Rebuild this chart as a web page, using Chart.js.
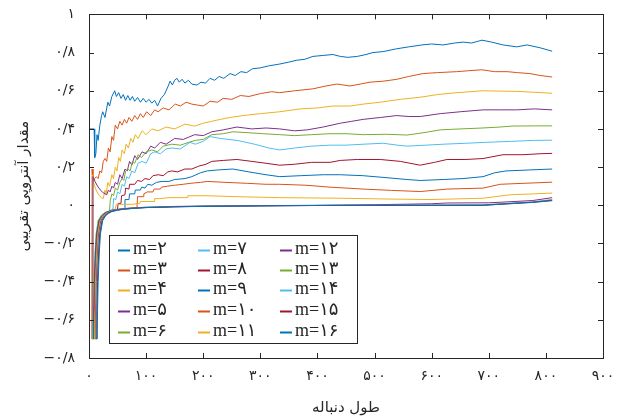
<!DOCTYPE html>
<html>
<head>
<meta charset="utf-8">
<script src="https://cdn.jsdelivr.net/npm/chart.js@4"></script>
<style>
  html, body { margin: 0; padding: 0; background: #fff; }
  #wrap { width: 618px; height: 419px; }
</style>
</head>
<body>
<div id="wrap"><canvas id="chart" width="618" height="419"></canvas></div>
<script>
// tick values and their Persian labels
var xTickValues = [0, 100, 200, 300, 400, 500, 600, 700, 800, 900];
var xTickLabels = ['۰', '۱۰۰', '۲۰۰', '۳۰۰', '۴۰۰', '۵۰۰', '۶۰۰', '۷۰۰', '۸۰۰', '۹۰۰'];
var yTickValues = [-0.8, -0.6, -0.4, -0.2, 0, 0.2, 0.4, 0.6, 0.8, 1];
var yTickLabels = ['−۰/۸', '−۰/۶', '−۰/۴', '−۰/۲', '۰', '۰/۲', '۰/۴', '۰/۶', '۰/۸', '۱'];

var seriesLabels = ['m=۲', 'm=۳', 'm=۴', 'm=۵', 'm=۶', 'm=۷', 'm=۸', 'm=۹', 'm=۱۰',
  'm=۱۱', 'm=۱۲', 'm=۱۳', 'm=۱۴', 'm=۱۵', 'm=۱۶'];

// [sequence length, approximate entropy]
var m2 = [[1,0.40],[9,0.40],[10,0.25],[12,0.27],[14,0.37],[16,0.34],[19,0.42],[22,0.47],[24,0.49],[28,0.46],[33,0.54],[36,0.52],[40,0.57],[45,0.60],[48,0.57],[52,0.59],[56,0.56],[60,0.58],[64,0.55],[68,0.575],[72,0.55],[76,0.57],[80,0.545],[85,0.565],[90,0.54],[95,0.56],[100,0.54],[105,0.555],[110,0.535],[115,0.55],[120,0.52],[126,0.56],[132,0.58],[138,0.62],[142,0.65],[146,0.63],[150,0.655],[154,0.665],[158,0.645],[163,0.66],[168,0.64],[174,0.655],[180,0.635],[189,0.63],[196,0.645],[204,0.64],[212,0.665],[220,0.655],[228,0.675],[236,0.665],[247,0.69],[256,0.68],[266,0.70],[276,0.695],[286,0.715],[300,0.72],[314,0.73],[334,0.74],[350,0.75],[364,0.76],[378,0.765],[392,0.78],[410,0.785],[427,0.79],[440,0.78],[453,0.775],[470,0.78],[485,0.79],[497,0.80],[515,0.805],[539,0.82],[560,0.83],[583,0.84],[600,0.845],[620,0.84],[640,0.85],[655,0.855],[670,0.85],[688,0.865],[705,0.855],[725,0.84],[749,0.83],[767,0.84],[790,0.825],[811,0.807]];
var m3 = [[5,-0.70],[5.5,0.19],[7,0.12],[10,0.14],[13,0.15],[16,0.14],[19,0.18],[22,0.17],[25,0.23],[28,0.245],[31,0.23],[34,0.30],[37,0.28],[40,0.36],[43,0.34],[46,0.42],[50,0.40],[54,0.44],[58,0.42],[62,0.45],[66,0.43],[70,0.46],[75,0.44],[80,0.47],[85,0.45],[90,0.48],[95,0.46],[101,0.49],[108,0.47],[115,0.50],[121,0.49],[130,0.51],[140,0.50],[151,0.53],[160,0.52],[170,0.54],[180,0.53],[190,0.525],[200,0.52],[212,0.545],[225,0.54],[235,0.56],[250,0.555],[265,0.575],[280,0.57],[300,0.585],[320,0.595],[334,0.59],[360,0.60],[392,0.61],[415,0.625],[434,0.635],[457,0.625],[475,0.635],[492,0.645],[515,0.65],[539,0.66],[560,0.675],[585,0.69],[610,0.695],[644,0.70],[665,0.705],[688,0.71],[710,0.70],[732,0.70],[750,0.695],[772,0.69],[790,0.68],[811,0.672]];
var m4 = [[5.5,-0.70],[6.5,0.16],[8,0.12],[11,0.09],[14,0.07],[18,0.05],[22,0.04],[25,0.035],[28,0.08],[30,0.06],[33,0.12],[36,0.10],[40,0.16],[43,0.14],[46,0.20],[49,0.18],[52,0.25],[55,0.23],[58,0.29],[62,0.27],[65,0.32],[69,0.30],[73,0.35],[77,0.33],[81,0.37],[86,0.35],[93,0.39],[100,0.37],[110,0.40],[121,0.39],[135,0.41],[150,0.40],[168,0.425],[185,0.415],[200,0.43],[215,0.44],[230,0.45],[247,0.46],[270,0.47],[300,0.48],[334,0.49],[370,0.505],[400,0.51],[427,0.52],[457,0.52],[480,0.53],[510,0.54],[545,0.555],[580,0.566],[610,0.58],[644,0.59],[690,0.60],[720,0.598],[749,0.597],[780,0.592],[811,0.587]];
var m5 = [[6,-0.70],[7,0.15],[8.5,0.14],[10.5,0.125],[15,0.10],[20,0.08],[25,0.065],[31,0.055],[34,0.08],[37,0.07],[40,0.10],[43,0.09],[46,0.12],[50,0.11],[54,0.16],[58,0.14],[63,0.19],[67,0.18],[71,0.23],[75,0.21],[80,0.26],[85,0.24],[93,0.28],[100,0.27],[108,0.31],[115,0.30],[125,0.33],[135,0.32],[150,0.35],[165,0.345],[185,0.37],[200,0.365],[215,0.385],[235,0.395],[259,0.41],[285,0.40],[310,0.405],[334,0.40],[360,0.39],[382,0.395],[410,0.41],[440,0.43],[460,0.44],[480,0.45],[510,0.46],[539,0.47],[560,0.465],[580,0.465],[615,0.48],[650,0.49],[690,0.50],[720,0.50],[749,0.50],[780,0.505],[811,0.50]];
var m6 = [[6.5,-0.70],[7.5,-0.55],[8.5,-0.40],[10.5,-0.25],[12.5,-0.15],[16,-0.08],[22,-0.05],[30,-0.035],[36,-0.03],[37,0.02],[40,0.06],[43,0.05],[46,0.09],[50,0.08],[54,0.12],[58,0.14],[61,0.13],[64,0.18],[68,0.19],[72,0.18],[76,0.23],[80,0.22],[86,0.265],[92,0.25],[100,0.28],[110,0.29],[120,0.28],[130,0.31],[145,0.32],[160,0.315],[175,0.33],[186,0.34],[200,0.345],[215,0.37],[235,0.375],[252,0.385],[280,0.38],[305,0.375],[334,0.37],[360,0.365],[390,0.37],[422,0.375],[450,0.375],[480,0.37],[520,0.372],[557,0.368],[585,0.38],[615,0.395],[650,0.40],[690,0.405],[720,0.41],[741,0.415],[780,0.416],[811,0.416]];
var m7 = [[7,-0.70],[8,-0.55],[9,-0.40],[11,-0.25],[13,-0.15],[17,-0.08],[22,-0.055],[27,-0.04],[35,-0.03],[42,-0.02],[43,0.035],[47,0.03],[50,0.07],[54,0.06],[58,0.11],[62,0.10],[66,0.15],[70,0.14],[75,0.18],[80,0.17],[86,0.22],[93,0.23],[100,0.22],[108,0.27],[115,0.28],[125,0.27],[135,0.295],[145,0.30],[160,0.295],[177,0.33],[186,0.32],[200,0.335],[212,0.36],[230,0.35],[259,0.34],[290,0.32],[315,0.30],[334,0.29],[360,0.30],[390,0.31],[422,0.315],[450,0.315],[480,0.32],[515,0.325],[540,0.315],[557,0.31],[590,0.315],[620,0.32],[660,0.325],[697,0.33],[740,0.335],[780,0.34],[811,0.341]];
var m8 = [[7.5,-0.70],[8.5,-0.55],[9.5,-0.40],[11.5,-0.25],[13.5,-0.15],[17.5,-0.08],[23,-0.055],[28,-0.04],[38,-0.028],[50,-0.02],[51,0.01],[56,0.01],[57,0.05],[63,0.055],[64,0.09],[70,0.085],[71,0.11],[80,0.11],[85,0.13],[92,0.125],[98,0.14],[106,0.135],[112,0.155],[121,0.16],[130,0.155],[138,0.175],[145,0.18],[155,0.175],[168,0.19],[180,0.19],[192,0.205],[205,0.215],[215,0.23],[235,0.235],[259,0.24],[285,0.23],[310,0.22],[334,0.21],[360,0.215],[390,0.225],[422,0.225],[440,0.235],[470,0.24],[510,0.24],[545,0.23],[580,0.21],[605,0.225],[627,0.24],[660,0.24],[690,0.245],[725,0.265],[760,0.265],[790,0.27],[811,0.272]];
var m9 = [[8,-0.70],[9,-0.55],[10,-0.40],[12,-0.25],[14,-0.15],[18,-0.08],[23,-0.055],[29,-0.04],[40,-0.027],[55,-0.02],[62,-0.017],[63,0.03],[70,0.03],[71,0.06],[80,0.06],[81,0.08],[90,0.08],[92,0.095],[98,0.09],[103,0.11],[110,0.105],[118,0.12],[128,0.125],[140,0.125],[150,0.135],[168,0.14],[180,0.15],[195,0.17],[207,0.18],[225,0.185],[252,0.19],[280,0.175],[310,0.16],[334,0.15],[370,0.155],[410,0.16],[440,0.16],[480,0.155],[520,0.145],[557,0.135],[580,0.13],[620,0.135],[655,0.14],[690,0.15],[710,0.17],[730,0.18],[770,0.185],[811,0.19]];
var m10 = [[9,-0.70],[10,-0.55],[11,-0.40],[13,-0.25],[15,-0.15],[19,-0.08],[24,-0.055],[30,-0.04],[45,-0.025],[60,-0.018],[84,-0.012],[85,0.045],[95,0.045],[96,0.06],[102,0.07],[112,0.07],[114,0.085],[125,0.085],[127,0.095],[137,0.10],[150,0.105],[165,0.11],[177,0.115],[195,0.12],[207,0.125],[240,0.12],[277,0.115],[310,0.11],[334,0.11],[380,0.105],[422,0.095],[480,0.085],[530,0.078],[580,0.072],[627,0.085],[690,0.09],[720,0.11],[760,0.115],[811,0.121]];
var m11 = [[10,-0.70],[11,-0.55],[12,-0.40],[14,-0.25],[16,-0.15],[20,-0.08],[25,-0.055],[31,-0.04],[45,-0.025],[48,0.005],[60,0.005],[75,0.005],[89,0.01],[90,0.02],[114,0.02],[115,0.035],[124,0.035],[140,0.04],[172,0.04],[173,0.05],[207,0.05],[260,0.045],[334,0.04],[440,0.037],[520,0.033],[597,0.03],[690,0.037],[737,0.055],[780,0.06],[811,0.064]];
var m12 = [[11,-0.70],[12,-0.55],[13,-0.40],[15,-0.25],[17,-0.15],[21,-0.08],[26,-0.055],[31,-0.04],[40,-0.028],[50,-0.022],[60,-0.018],[80,-0.013],[100,-0.01],[150,-0.006],[200,-0.004],[300,-0.002],[400,0.0],[500,0.003],[600,0.008],[627,0.012],[700,0.013],[720,0.016],[777,0.025],[811,0.04]];
var m13 = [[12,-0.70],[13,-0.55],[14,-0.40],[16,-0.25],[18,-0.15],[22,-0.08],[27,-0.055],[32,-0.04],[40,-0.029],[50,-0.023],[60,-0.019],[80,-0.014],[100,-0.011],[150,-0.007],[200,-0.005],[300,-0.002],[400,-0.001],[500,0.0],[600,0.0],[690,0.002],[720,0.008],[777,0.018],[811,0.03]];
var m14 = [[12.5,-0.70],[13.5,-0.55],[14.5,-0.40],[16.5,-0.25],[18.5,-0.15],[22.5,-0.08],[27.5,-0.055],[33,-0.04],[40,-0.03],[50,-0.024],[60,-0.02],[80,-0.015],[100,-0.011],[150,-0.007],[200,-0.005],[300,-0.002],[400,-0.001],[500,0.0],[600,0.0],[690,0.001],[720,0.007],[777,0.017],[811,0.028]];
var m15 = [[13,-0.70],[14,-0.55],[15,-0.40],[17,-0.25],[19,-0.15],[23,-0.08],[28,-0.055],[33,-0.042],[40,-0.031],[50,-0.025],[60,-0.02],[80,-0.015],[100,-0.012],[150,-0.008],[200,-0.005],[300,-0.003],[400,-0.001],[500,0.0],[600,0.0],[690,0.0],[720,0.006],[777,0.016],[811,0.026]];
var m16 = [[14,-0.70],[15,-0.55],[16,-0.40],[18,-0.25],[20,-0.15],[24,-0.08],[29,-0.055],[34,-0.043],[40,-0.033],[50,-0.026],[60,-0.021],[80,-0.016],[100,-0.012],[150,-0.008],[200,-0.006],[300,-0.003],[400,-0.001],[500,0.0],[600,0.0],[690,0.0],[720,0.005],[777,0.015],[811,0.024]];

var seriesValues = [m2, m3, m4, m5, m6, m7, m8, m9, m10, m11, m12, m13, m14, m15, m16];

// MATLAB default colour order, repeating
var palette = ['#0072BD', '#D95319', '#EDB120', '#7E2F8E', '#77AC30', '#4DBEEE', '#A2142F'];

var axisColor = '#262626';
var tickFont = { family: "'DejaVu Sans'", size: 14 };
var titleFont = { family: "'DejaVu Sans'", size: 15 };

var datasets = seriesValues.map(function (pts, i) {
  return {
    label: seriesLabels[i],
    data: pts.map(function (p) { return { x: p[0], y: p[1] }; }),
    borderColor: palette[i % palette.length],
    borderWidth: 1,
    pointRadius: 0,
    tension: 0,
    fill: false,
    order: seriesValues.length - i   // later series on top, like MATLAB
  };
});

// box, inward ticks and the in-plot legend
var matlabFrame = {
  id: 'matlabFrame',
  afterDatasetsDraw: function (chart) {
    var ctx = chart.ctx, a = chart.chartArea;
    var xs = chart.scales.x, ys = chart.scales.y;
    ctx.save();
    ctx.strokeStyle = axisColor;
    ctx.lineWidth = 1;
    ctx.strokeRect(Math.round(a.left) + 0.5, Math.round(a.top) + 0.5,
      Math.round(a.right - a.left), Math.round(a.bottom - a.top));
    ctx.beginPath();
    xTickValues.forEach(function (v) {
      var px = Math.round(xs.getPixelForValue(v)) + 0.5;
      ctx.moveTo(px, a.bottom); ctx.lineTo(px, a.bottom - 5);
      ctx.moveTo(px, a.top); ctx.lineTo(px, a.top + 5);
    });
    yTickValues.forEach(function (v) {
      var py = Math.round(ys.getPixelForValue(v)) + 0.5;
      ctx.moveTo(a.left, py); ctx.lineTo(a.left + 5, py);
      ctx.moveTo(a.right, py); ctx.lineTo(a.right - 5, py);
    });
    ctx.stroke();

    // legend: 3 columns x 5 rows, column-major
    var box = { x: 109.5, y: 235.5, w: 248, h: 108 };
    ctx.fillStyle = '#fff';
    ctx.fillRect(box.x, box.y, box.w, box.h);
    ctx.strokeStyle = axisColor;
    ctx.strokeRect(box.x, box.y, box.w, box.h);
    var colX = [118, 198, 280];
    var rowY = [250, 270, 290, 311, 332];
    ctx.font = "18px 'Liberation Serif', 'DejaVu Sans'";
    ctx.textBaseline = 'middle';
    ctx.textAlign = 'left';
    chart.data.datasets.forEach(function (ds, i) {
      var cx = colX[Math.floor(i / 5)], cy = rowY[i % 5];
      ctx.strokeStyle = ds.borderColor;
      ctx.lineWidth = 2;
      ctx.beginPath();
      ctx.moveTo(cx, cy + 0.5); ctx.lineTo(cx + 12, cy + 0.5);
      ctx.stroke();
      ctx.fillStyle = axisColor;
      ctx.fillText(ds.label, cx + 15, cy - 1);
    });
    ctx.restore();
  }
};

new Chart(document.getElementById('chart'), {
  type: 'line',
  data: { datasets: datasets },
  options: {
    responsive: false,
    animation: false,
    layout: { padding: { top: 11, right: 15, left: 0, bottom: 0 } },
    plugins: { legend: { display: false }, tooltip: { enabled: false } },
    scales: {
      x: {
        type: 'linear',
        min: 0, max: 900,
        grid: { display: false },
        border: { display: false },
        ticks: {
          stepSize: 100, autoSkip: false, maxRotation: 0, padding: 2,
          color: axisColor, font: tickFont,
          callback: function (v) {
            var i = xTickValues.indexOf(Math.round(v));
            return i < 0 ? '' : xTickLabels[i];
          }
        },
        title: { display: true, text: 'طول دنباله', color: axisColor, font: titleFont, padding: { top: 0, bottom: 2 } },
        afterFit: function (s) { s.height = 61; }
      },
      y: {
        type: 'linear',
        min: -0.8, max: 1,
        grid: { display: false },
        border: { display: false },
        ticks: {
          stepSize: 0.2, autoSkip: false, padding: 6,
          color: axisColor, font: tickFont,
          callback: function (v) {
            var k = Math.round(v * 10);
            for (var i = 0; i < yTickValues.length; i++) {
              if (Math.round(yTickValues[i] * 10) === k) return yTickLabels[i];
            }
            return '';
          }
        },
        title: { display: true, text: 'مقدار آنتروپی تقریبی', color: axisColor, font: titleFont, padding: { top: 15, bottom: 0 } },
        afterFit: function (s) { s.width = 89; }
      }
    }
  },
  plugins: [matlabFrame]
});
</script>
</body>
</html>
